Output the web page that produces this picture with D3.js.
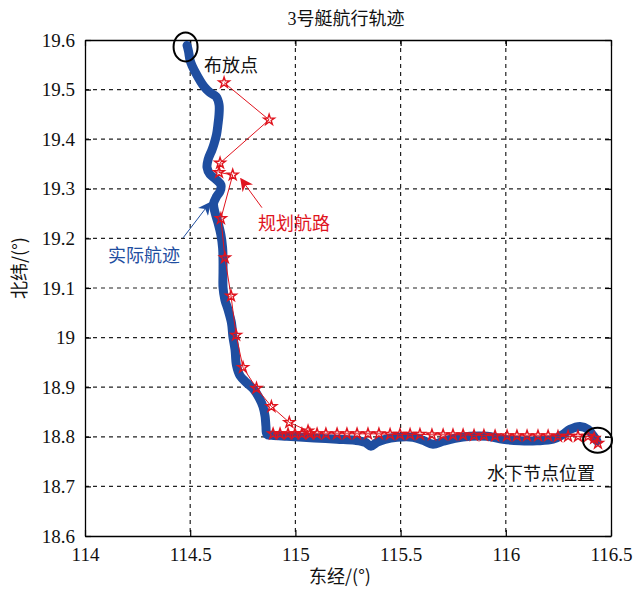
<!DOCTYPE html>
<html lang="en">
<head>
<meta charset="utf-8">
<script src="https://cdn.jsdelivr.net/npm/d3@7"></script>
<style>
  html, body { margin: 0; padding: 0; background: #fff; }
  svg { display: block; }
  .num { font-family: "Liberation Serif", serif; }
  .cjk { font-family: "Noto Sans CJK SC", sans-serif; }
</style>
</head>
<body>
<svg id="chart" width="635" height="593"></svg>
<script>
// Boat No.3 track: actual route (blue) vs planned route (red)
const title = "3号艇航行轨迹";
const xLabel = "东经/(°)";
const yLabel = "北纬/(°)";
const xTicks = [114, 114.5, 115, 115.5, 116, 116.5];
const yTicks = [18.6, 18.7, 18.8, 18.9, 19, 19.1, 19.2, 19.3, 19.4, 19.5, 19.6];

// actual track [lon, lat]
const actualLon = [114.485, 114.492, 114.499, 114.509, 114.528, 114.547, 114.566, 114.594, 114.623, 114.637,
  114.637, 114.632, 114.625, 114.615, 114.604, 114.585, 114.580, 114.594, 114.623, 114.646,
  114.642, 114.625, 114.611, 114.618, 114.632, 114.646, 114.654, 114.656, 114.656, 114.656,
  114.665, 114.680, 114.696, 114.703, 114.713, 114.720, 114.737, 114.768, 114.803, 114.827,
  114.846, 114.856, 114.860, 114.865, 114.889, 114.960, 115.036, 115.117, 115.198, 115.283,
  115.331, 115.359, 115.388, 115.426, 115.483, 115.559, 115.606, 115.654, 115.702, 115.759,
  115.830, 115.911, 115.987, 116.067, 116.148, 116.224, 116.272, 116.305, 116.353, 116.391,
  116.414, 116.433];
const actualLat = [19.589, 19.577, 19.560, 19.548, 19.532, 19.518, 19.506, 19.494, 19.486, 19.470,
  19.450, 19.430, 19.409, 19.393, 19.379, 19.359, 19.343, 19.329, 19.319, 19.308,
  19.295, 19.284, 19.270, 19.252, 19.232, 19.207, 19.181, 19.157, 19.131, 19.101,
  19.076, 19.056, 19.030, 19.002, 18.976, 18.944, 18.923, 18.909, 18.895, 18.879,
  18.861, 18.841, 18.821, 18.805, 18.803, 18.801, 18.799, 18.797, 18.795, 18.793,
  18.789, 18.781, 18.789, 18.795, 18.799, 18.799, 18.793, 18.785, 18.791, 18.797,
  18.801, 18.801, 18.795, 18.792, 18.792, 18.795, 18.805, 18.815, 18.821, 18.815,
  18.803, 18.792];

// planned route waypoints [lon, lat]
const planLon = [114.661, 114.875, 114.642, 114.637, 114.702, 114.646, 114.665, 114.694, 114.718, 114.751,
  114.815, 114.886, 114.971, 115.060,
  114.894, 114.927, 114.965, 114.998, 115.031, 115.069, 115.103, 115.145, 115.198, 115.245,
  115.293, 115.345, 115.397, 115.450, 115.497, 115.545, 115.592, 115.649, 115.702, 115.749,
  115.797, 115.849, 115.896, 115.949, 116.006, 116.053, 116.101, 116.153, 116.201, 116.248,
  116.296, 116.343, 116.391, 116.420, 116.438];
const planLat = [19.514, 19.439, 19.352, 19.333, 19.328, 19.240, 19.161, 19.084, 19.005, 18.940,
  18.898, 18.861, 18.829, 18.812,
  18.806, 18.806, 18.806, 18.806, 18.806, 18.806, 18.806, 18.806, 18.806, 18.806,
  18.806, 18.806, 18.806, 18.805, 18.805, 18.805, 18.805, 18.804, 18.804, 18.804,
  18.804, 18.803, 18.803, 18.802, 18.802, 18.802, 18.802, 18.802, 18.802, 18.801,
  18.801, 18.801, 18.801, 18.797, 18.787];

const blue = "#1f4ea0";
const red = "#e0141e";

const svg = d3.select("#chart");
const margin = {left: 85, top: 40, right: 24, bottom: 57};
const W = 635 - margin.left - margin.right;
const H = 593 - margin.top - margin.bottom;

const x = d3.scaleLinear().domain([114, 116.5]).range([0, W]);
const y = d3.scaleLinear().domain([18.6, 19.6]).range([H, 0]);

const g = svg.append("g").attr("transform", `translate(${margin.left},${margin.top})`);

// dashed grid
g.append("g").selectAll("line").data(xTicks.slice(1, -1)).join("line")
  .attr("x1", d => x(d)).attr("x2", d => x(d)).attr("y1", 0).attr("y2", H)
  .attr("stroke", "#222").attr("stroke-width", 1.2).attr("stroke-dasharray", "4,4");
g.append("g").selectAll("line").data(yTicks.slice(1, -1)).join("line")
  .attr("y1", d => y(d)).attr("y2", d => y(d)).attr("x1", 0).attr("x2", W)
  .attr("stroke", "#222").attr("stroke-width", 1.2).attr("stroke-dasharray", "4,4");

// axes with inward ticks on all four sides
const fmt = d => String(+d.toFixed(1));
const axB = g.append("g").attr("transform", `translate(0,${H})`)
  .call(d3.axisBottom(x).tickValues(xTicks).tickFormat(fmt).tickSizeInner(-6).tickSizeOuter(0).tickPadding(12));
const axL = g.append("g")
  .call(d3.axisLeft(y).tickValues(yTicks).tickFormat(fmt).tickSizeInner(-6).tickSizeOuter(0).tickPadding(10));
const axT = g.append("g")
  .call(d3.axisTop(x).tickValues(xTicks).tickFormat("").tickSizeInner(-6).tickSizeOuter(0));
const axR = g.append("g").attr("transform", `translate(${W},0)`)
  .call(d3.axisRight(y).tickValues(yTicks).tickFormat("").tickSizeInner(-6).tickSizeOuter(0));
[axB, axL, axT, axR].forEach(a => {
  a.attr("font-family", null).attr("font-size", null);
  a.select(".domain").attr("stroke", "#000").attr("stroke-width", 1.3);
  a.selectAll(".tick line").attr("stroke", "#000").attr("stroke-width", 1.2);
  a.selectAll("text").attr("class", "num").attr("font-size", 19).attr("fill", "#111");
});

// actual track
const actual = actualLon.map((v, i) => [v, actualLat[i]]);
const line = d3.line().x(d => x(d[0])).y(d => y(d[1])).curve(d3.curveCatmullRom.alpha(0.5));
g.append("path").datum(actual).attr("d", line)
  .attr("fill", "none").attr("stroke", blue).attr("stroke-width", 9)
  .attr("stroke-linejoin", "round").attr("stroke-linecap", "round");

// planned route
const plan = planLon.map((v, i) => [v, planLat[i]]);
g.append("path").datum(plan).attr("d", d3.line().x(d => x(d[0])).y(d => y(d[1])))
  .attr("fill", "none").attr("stroke", red).attr("stroke-width", 1);
g.append("g").selectAll("path").data(plan).join("path")
  .attr("transform", d => `translate(${x(d[0])},${y(d[1])})`)
  .attr("d", d3.symbol().type(d3.symbolStar).size(36))
  .attr("fill", "none").attr("stroke", red).attr("stroke-width", 1.4);

// markers for the deployment point and the underwater node
const rings = [
  {lon: 114.478, lat: 19.586, rx: 12, ry: 14.5},
  {lon: 116.436, lat: 18.793, rx: 14.5, ry: 12.5}
];
g.append("g").selectAll("ellipse").data(rings).join("ellipse")
  .attr("cx", d => x(d.lon)).attr("cy", d => y(d.lat))
  .attr("rx", d => d.rx).attr("ry", d => d.ry)
  .attr("fill", "none").attr("stroke", "#000").attr("stroke-width", 2);

// arrows
const defs = svg.append("defs");
[["ahBlue", blue], ["ahRed", red]].forEach(([id, c]) => {
  defs.append("marker").attr("id", id).attr("viewBox", "0 0 10 10")
    .attr("refX", 9).attr("refY", 5).attr("markerWidth", 13).attr("markerHeight", 13)
    .attr("markerUnits", "userSpaceOnUse").attr("orient", "auto")
    .append("path").attr("d", "M0,0 L10,5 L0,10 L3,5 Z").attr("fill", c);
});
const arrows = [
  {from: [114.466, 19.201], to: [114.594, 19.272], color: blue, id: "ahBlue"},
  {from: [114.841, 19.262], to: [114.741, 19.320], color: red, id: "ahRed"}
];
g.append("g").selectAll("line").data(arrows).join("line")
  .attr("x1", d => x(d.from[0])).attr("y1", d => y(d.from[1]))
  .attr("x2", d => x(d.to[0])).attr("y2", d => y(d.to[1]))
  .attr("stroke", d => d.color).attr("stroke-width", 1)
  .attr("marker-end", d => `url(#${d.id})`);

// callout labels
const notes = [
  {text: "布放点", lon: 114.566, lat: 19.536, color: "#111"},
  {text: "规划航路", lon: 114.822, lat: 19.217, color: red},
  {text: "实际航迹", lon: 114.109, lat: 19.153, color: blue},
  {text: "水下节点位置", lon: 115.911, lat: 18.713, color: "#111"}
];
g.append("g").selectAll("text").data(notes).join("text")
  .attr("class", "cjk")
  .attr("x", d => x(d.lon)).attr("y", d => y(d.lat))
  .attr("font-size", 18).attr("fill", d => d.color)
  .text(d => d.text);

// title and axis labels
svg.append("text").attr("x", margin.left + W / 2 - 2).attr("y", 25)
  .attr("text-anchor", "middle").attr("font-size", 18).attr("fill", "#111")
  .call(t => {
    t.append("tspan").attr("class", "num").text(title.slice(0, 1));
    t.append("tspan").attr("class", "cjk").text(title.slice(1));
  });
svg.append("text").attr("class", "cjk").attr("x", margin.left + W / 2 - 8).attr("y", 583)
  .attr("text-anchor", "middle").attr("font-size", 18).attr("fill", "#111").text(xLabel);
svg.append("text").attr("class", "cjk")
  .attr("transform", `translate(26,${margin.top + H / 2 - 20}) rotate(-90)`)
  .attr("text-anchor", "middle").attr("font-size", 18).attr("fill", "#111").text(yLabel);
</script>
</body>
</html>
